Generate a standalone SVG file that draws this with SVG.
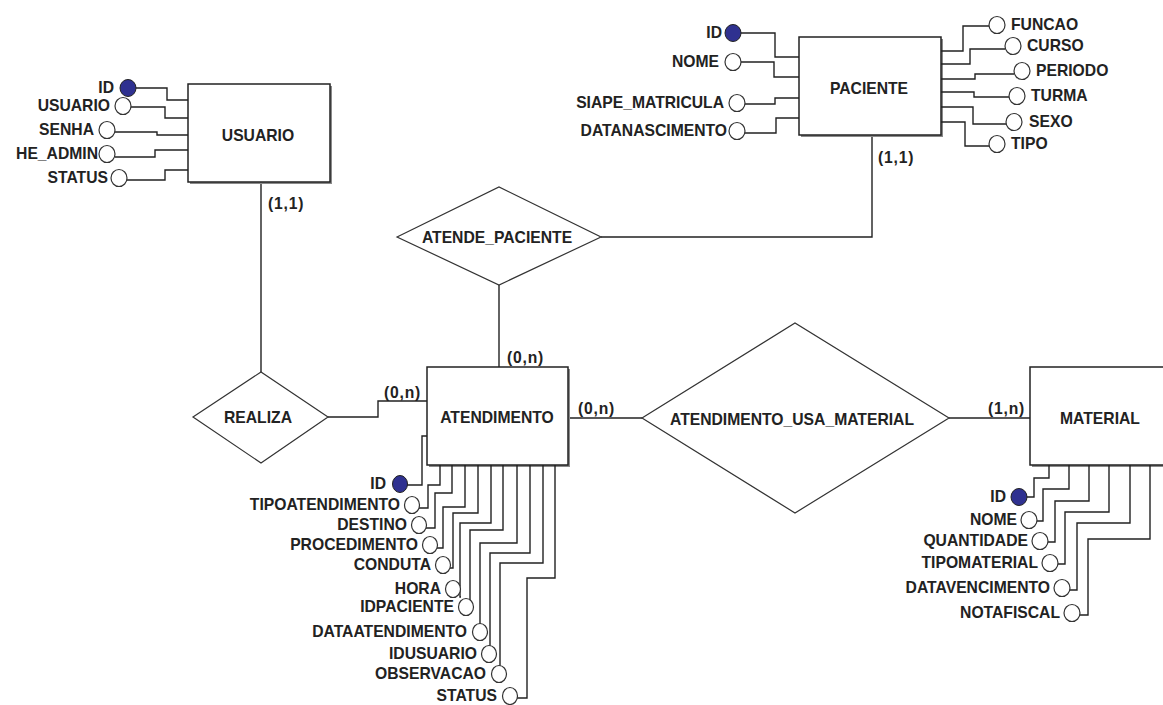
<svg xmlns="http://www.w3.org/2000/svg" width="1163" height="705" viewBox="0 0 1163 705">
<style>
text{font-family:"Liberation Sans",Arial,sans-serif;font-weight:bold;font-size:15.7px;fill:#222}
.l{text-anchor:end}
.r{text-anchor:start}
.c{text-anchor:middle}
.box{fill:#fff;stroke:#222;stroke-width:1.5}
.sh{fill:#8a8a8a}
.dia{fill:#fff;stroke:#333;stroke-width:1.2}
.ln{fill:none;stroke:#222;stroke-width:1.4}
.at{fill:#fff;stroke:#333;stroke-width:1.2}
.pk{fill:#2f3190;stroke:#222;stroke-width:1}
.card{letter-spacing:0.8px}
</style>
<rect width="1163" height="705" fill="#fff"/>

<g id="connectors">
  <polyline class="ln" points="261,182 261,372"/>
  <polyline class="ln" points="328,417 378,417 378,401 427,401"/>
  <polyline class="ln" points="601,237 872,237 872,135"/>
  <polyline class="ln" points="499,285 499,367"/>
  <polyline class="ln" points="568,418 642,418"/>
  <polyline class="ln" points="949,418 1030,418"/>
</g>

<g id="usuario">
  <rect class="sh" x="190" y="86" width="142" height="98"/>
  <rect class="box" x="188" y="84" width="142" height="98"/>
  <text class="c" x="258" y="141">USUARIO</text>
  <polyline class="ln" points="136,88 167,88 167,100 188,100"/>
  <polyline class="ln" points="131,107 165,107 165,118 188,118"/>
  <polyline class="ln" points="115,132 157,132 157,135 188,135"/>
  <polyline class="ln" points="115,157 155,157 155,150 188,150"/>
  <polyline class="ln" points="127,180 165,180 165,170 188,170"/>
  <ellipse class="pk" cx="128" cy="88" rx="8" ry="8.5"/>
  <ellipse class="at" cx="123" cy="106" rx="8" ry="8.5"/>
  <ellipse class="at" cx="107" cy="130" rx="8" ry="8.5"/>
  <ellipse class="at" cx="107" cy="154" rx="8" ry="8.5"/>
  <ellipse class="at" cx="119" cy="178" rx="8" ry="8.5"/>
  <text class="l" x="114" y="93">ID</text>
  <text class="l" x="110" y="111">USUARIO</text>
  <text class="l" x="94" y="135">SENHA</text>
  <text class="l" x="98" y="159">HE_ADMIN</text>
  <text class="l" x="108" y="183">STATUS</text>
  <text class="card" x="268" y="209">(1,1)</text>
</g>

<g id="paciente">
  <rect class="sh" x="801" y="39" width="142" height="98"/>
  <rect class="box" x="799" y="37" width="142" height="98"/>
  <text class="c" x="869" y="94">PACIENTE</text>
  <polyline class="ln" points="741,33 775,33 775,57 799,57"/>
  <polyline class="ln" points="741,62 774,62 774,77 799,77"/>
  <polyline class="ln" points="745,104 775,104 775,98 799,98"/>
  <polyline class="ln" points="745,133 776,133 776,118 799,118"/>
  <polyline class="ln" points="941,51 963,51 963,26 989,26"/>
  <polyline class="ln" points="941,64 970,64 970,49 1005,49"/>
  <polyline class="ln" points="941,79 975,79 975,74 1014,74"/>
  <polyline class="ln" points="941,92 974,92 974,97 1009,97"/>
  <polyline class="ln" points="941,107 973,107 973,124 1006,124"/>
  <polyline class="ln" points="941,122 965,122 965,146 989,146"/>
  <ellipse class="pk" cx="733" cy="33" rx="8" ry="8.5"/>
  <ellipse class="at" cx="733" cy="62" rx="8" ry="8.5"/>
  <ellipse class="at" cx="737" cy="103" rx="8" ry="8.5"/>
  <ellipse class="at" cx="737" cy="131" rx="8" ry="8.5"/>
  <ellipse class="at" cx="997" cy="25" rx="8" ry="8.5"/>
  <ellipse class="at" cx="1013" cy="46" rx="8" ry="8.5"/>
  <ellipse class="at" cx="1022" cy="71" rx="8" ry="8.5"/>
  <ellipse class="at" cx="1017" cy="96" rx="8" ry="8.5"/>
  <ellipse class="at" cx="1014" cy="122" rx="8" ry="8.5"/>
  <ellipse class="at" cx="997" cy="144" rx="8" ry="8.5"/>
  <text class="l" x="722" y="38">ID</text>
  <text class="l" x="719" y="67">NOME</text>
  <text class="l" x="724" y="108">SIAPE_MATRICULA</text>
  <text class="l" x="727" y="136">DATANASCIMENTO</text>
  <text class="r" x="1011" y="30">FUNCAO</text>
  <text class="r" x="1027" y="51">CURSO</text>
  <text class="r" x="1036" y="76">PERIODO</text>
  <text class="r" x="1031" y="101">TURMA</text>
  <text class="r" x="1029" y="127">SEXO</text>
  <text class="r" x="1011" y="149">TIPO</text>
  <text class="card" x="878" y="163">(1,1)</text>
</g>

<g id="atende_paciente">
  <polygon class="dia" points="397,237 499,187 601,237 499,285"/>
  <text class="c" x="497" y="243">ATENDE_PACIENTE</text>
</g>

<g id="realiza">
  <polygon class="dia" points="193,417 261,372 328,417 261,463"/>
  <text class="c" x="258" y="423">REALIZA</text>
</g>

<g id="atendimento_usa_material">
  <polygon class="dia" points="642,418 795,323 949,418 795,513"/>
  <text class="c" x="792" y="425">ATENDIMENTO_USA_MATERIAL</text>
</g>

<g id="atendimento">
  <rect class="sh" x="429" y="369" width="141" height="98"/>
  <rect class="box" x="427" y="367" width="141" height="98"/>
  <text class="c" x="497" y="423">ATENDIMENTO</text>
  <polyline class="ln" points="427,436 422,436 422,485 407,485"/>
  <polyline class="ln" points="440,465 440,485 428,485 428,508 419,508"/>
  <polyline class="ln" points="452,465 452,493 435,493 435,528 426,528"/>
  <polyline class="ln" points="465,465 465,507 443,507 443,548 437,548"/>
  <polyline class="ln" points="478,465 478,513 453,513 453,568 450,568"/>
  <polyline class="ln" points="491,465 491,523 460,523 460,597 461,597"/>
  <polyline class="ln" points="503,465 503,530 470,530 470,609 473,609"/>
  <polyline class="ln" points="517,465 517,543 480,543 480,633 488,633"/>
  <polyline class="ln" points="530,465 530,553 490,553 490,658 496,658"/>
  <polyline class="ln" points="543,465 543,563 500,563 500,678 506,678"/>
  <polyline class="ln" points="555,465 555,578 527,578 527,698 517,698"/>
  <ellipse class="pk" cx="400" cy="484" rx="7.5" ry="8.5"/>
  <ellipse class="at" cx="412" cy="505" rx="7.5" ry="8.5"/>
  <ellipse class="at" cx="419" cy="525" rx="7.5" ry="8.5"/>
  <ellipse class="at" cx="430" cy="545" rx="7.5" ry="8.5"/>
  <ellipse class="at" cx="443" cy="565" rx="7.5" ry="8.5"/>
  <ellipse class="at" cx="453" cy="589" rx="7.5" ry="8.5"/>
  <ellipse class="at" cx="466" cy="607" rx="7.5" ry="8.5"/>
  <ellipse class="at" cx="480" cy="632" rx="7.5" ry="8.5"/>
  <ellipse class="at" cx="489" cy="654" rx="7.5" ry="8.5"/>
  <ellipse class="at" cx="499" cy="674" rx="7.5" ry="8.5"/>
  <ellipse class="at" cx="510" cy="696" rx="7.5" ry="8.5"/>
  <text class="l" x="386" y="489">ID</text>
  <text class="l" x="400" y="510">TIPOATENDIMENTO</text>
  <text class="l" x="407" y="530">DESTINO</text>
  <text class="l" x="418" y="550">PROCEDIMENTO</text>
  <text class="l" x="431" y="570">CONDUTA</text>
  <text class="l" x="441" y="594">HORA</text>
  <text class="l" x="454" y="612">IDPACIENTE</text>
  <text class="l" x="467" y="637">DATAATENDIMENTO</text>
  <text class="l" x="477" y="659">IDUSUARIO</text>
  <text class="l" x="486" y="679">OBSERVACAO</text>
  <text class="l" x="497" y="701">STATUS</text>
  <text class="card" x="384" y="398">(0,n)</text>
  <text class="card" x="507" y="363">(0,n)</text>
  <text class="card" x="578" y="414">(0,n)</text>
</g>

<g id="material">
  <rect class="sh" x="1032" y="369" width="140" height="98"/>
  <rect class="box" x="1030" y="367" width="140" height="98"/>
  <text class="c" x="1100" y="424">MATERIAL</text>
  <polyline class="ln" points="1027,497 1034,497 1034,478 1049,478 1049,465"/>
  <polyline class="ln" points="1037,521 1043,521 1043,489 1069,489 1069,465"/>
  <polyline class="ln" points="1048,542 1055,542 1055,501 1089,501 1089,465"/>
  <polyline class="ln" points="1058,564 1065,564 1065,512 1109,512 1109,465"/>
  <polyline class="ln" points="1070,590 1077,590 1077,523 1130,523 1130,465"/>
  <polyline class="ln" points="1080,615 1088,615 1088,539 1150,539 1150,465"/>
  <ellipse class="pk" cx="1019" cy="497" rx="8" ry="8.5"/>
  <ellipse class="at" cx="1029" cy="520" rx="8" ry="8.5"/>
  <ellipse class="at" cx="1040" cy="541" rx="8" ry="8.5"/>
  <ellipse class="at" cx="1050" cy="563" rx="8" ry="8.5"/>
  <ellipse class="at" cx="1062" cy="588" rx="8" ry="8.5"/>
  <ellipse class="at" cx="1072" cy="613" rx="8" ry="8.5"/>
  <text class="l" x="1006" y="502">ID</text>
  <text class="l" x="1017" y="525">NOME</text>
  <text class="l" x="1028" y="546">QUANTIDADE</text>
  <text class="l" x="1038" y="568">TIPOMATERIAL</text>
  <text class="l" x="1050" y="593">DATAVENCIMENTO</text>
  <text class="l" x="1060" y="618">NOTAFISCAL</text>
  <text class="card" x="988" y="414">(1,n)</text>
</g>
</svg>
